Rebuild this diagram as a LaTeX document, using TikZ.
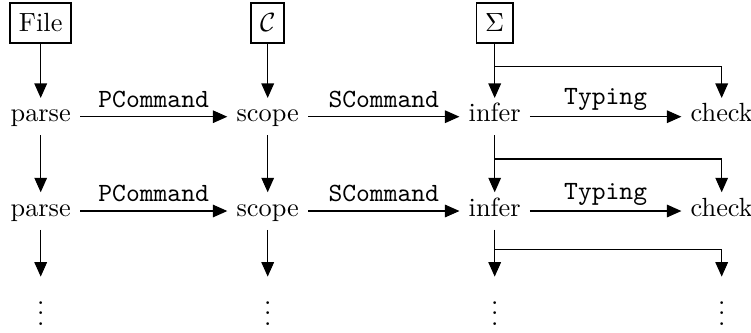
\documentclass[tikz,border=0pt]{standalone}
\usetikzlibrary{arrows.meta}
\begin{document}
\begin{tikzpicture}[x=0.3802pt,y=-0.3802pt,
  w/.style={anchor=base, inner sep=3.33pt, text height=5.5pt, text depth=1.7pt},
  src/.style={draw, line width=0.7pt, inner sep=3.33pt, minimum height=15.2pt},
  vd/.style={anchor=base, inner sep=3.33pt},
  arr/.style={-{Triangle[length=5.5pt,width=4.8pt]}},
  lbl/.style={above, font=\ttfamily, inner sep=3.33pt},
  lbld/.style={lbl, yshift=-1.3pt}]
\useasboundingbox (0,0) rectangle (751,332);
% sources
\node[src] (file) at (40.7,23) {File};
\node[src] (ctx) at (267.7,23) {$\mathcal{C}$};
\node[src] (sig) at (494.7,23) {$\Sigma$};
% row 1
\node[w] (parse1) at (40.7,121.7) {parse};
\node[w] (scope1) at (267.7,121.7) {scope};
\node[w] (infer1) at (494.7,121.7) {infer};
\node[w] (check1) at (721.7,121.7) {check};
% row 2
\node[w] (parse2) at (40.7,216) {parse};
\node[w] (scope2) at (267.7,216) {scope};
\node[w] (infer2) at (494.7,216) {infer};
\node[w] (check2) at (721.7,216) {check};
% row 3
\node[vd] (vd1) at (40.7,325.5) {$\vdots$};
\node[vd] (vd2) at (267.7,325.5) {$\vdots$};
\node[vd] (vd3) at (494.7,325.5) {$\vdots$};
\node[vd] (vd4) at (721.7,325.5) {$\vdots$};
% junctions
\coordinate (j1) at (494.7,66.5);
\coordinate (j2) at (494.7,159);
\coordinate (j3) at (494.7,249.3);
% vertical arrows
\draw[arr] (file) -- (parse1);
\draw[arr] (ctx) -- (scope1);
\draw[arr] (sig) -- (infer1);
\draw[arr] (sig.south) -- (j1) -| (check1.north);
\draw[arr] (parse1) -- (parse2);
\draw[arr] (scope1) -- (scope2);
\draw[arr] (infer1) -- (infer2);
\draw[arr] (infer1.south) -- (j2) -| (check2.north);
\draw[arr] (parse2) -- (vd1);
\draw[arr] (scope2) -- (vd2);
\draw[arr] (infer2) -- (vd3);
\draw[arr] (infer2.south) -- (j3) -| (vd4.north);
% horizontal arrows
\draw[arr] (parse1) -- node[lbl] {PCommand} (scope1);
\draw[arr] (scope1) -- node[lbl] {SCommand} (infer1);
\draw[arr] (infer1) -- node[lbld] {Typing} (check1);
\draw[arr] (parse2) -- node[lbl] {PCommand} (scope2);
\draw[arr] (scope2) -- node[lbl] {SCommand} (infer2);
\draw[arr] (infer2) -- node[lbld] {Typing} (check2);
\end{tikzpicture}
\end{document}
